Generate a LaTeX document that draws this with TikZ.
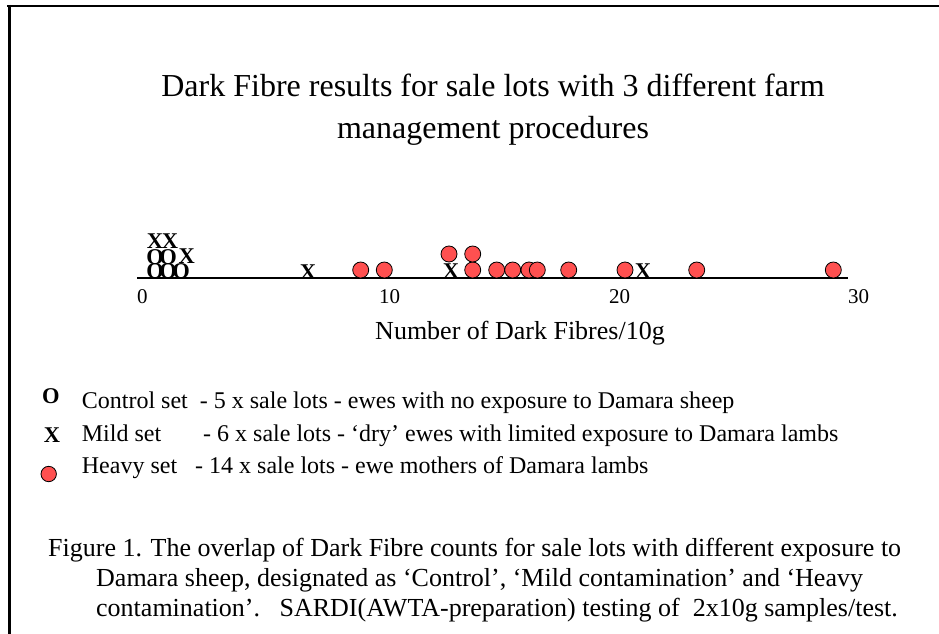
\documentclass[tikz,border=0pt]{standalone}
\usepackage{fontspec}
\setmainfont{Liberation Serif}
\definecolor{dotred}{RGB}{255,80,80}
\tikzset{
  frameline/.style={line width=2.7pt},
  axisline/.style={line width=1.3pt},
  txt/.style={inner sep=0pt, anchor=base west},
  ctxt/.style={inner sep=0pt, anchor=base},
  mk/.style={inner sep=0pt, anchor=base, font=\fontsize{22.5}{22.5}\selectfont\bfseries},
  dot/.style={circle, draw=black, line width=0.8pt, fill=dotred, minimum size=16pt, inner sep=0pt},
}
\begin{document}
\begin{tikzpicture}[x=1pt,y=-1pt]
\useasboundingbox (0,0) rectangle (939,634);
% frame (top and left edges only)
\draw[frameline] (7,6) -- (939,6);
\draw[frameline] (9.3,5) -- (9.3,634);
% title
\node[ctxt, font=\fontsize{32}{32}\selectfont] (title1) at (493,96) {Dark Fibre results for sale lots with 3 different farm};
\node[ctxt, font=\fontsize{32}{32}\selectfont] (title2) at (493,138) {management procedures};
% axis
\coordinate (axL) at (137,278);
\coordinate (axR) at (848,278);
\draw[axisline] (axL) -- (axR);
\node[txt, font=\fontsize{21}{21}\selectfont] (t0) at (137,303) {0};
\node[txt, font=\fontsize{21}{21}\selectfont] (t10) at (379,303) {10};
\node[txt, font=\fontsize{21}{21}\selectfont] (t20) at (609,303) {20};
\node[txt, font=\fontsize{21}{21}\selectfont] (t30) at (848,303) {30};
\node[ctxt, font=\fontsize{26}{26}\selectfont] (xlab) at (520,339) {Number of Dark Fibres/10g};
% control lots
\node[mk] (c1) at (155,278) {O};
\node[mk] (c2) at (168,278) {O};
\node[mk] (c3) at (181,278) {O};
\node[mk] (c4) at (155,264) {O};
\node[mk] (c5) at (168,264) {O};
% mild lots
\node[mk] (m1) at (186.7,263) {X};
\node[mk] (m2) at (155,248) {X};
\node[mk] (m3) at (170,248) {X};
\node[mk] (m4) at (308,279) {X};
\node[mk] (m5) at (451,278) {X};
\node[mk] (m6) at (643,278) {X};
% heavy lots
\foreach \x [count=\i] in {360.7,384.3,472.7,496.7,512.7,529,537.3,568.7,625,696.7,833.3}
  \node[dot] (h\i) at (\x,270) {};
\node[dot] (hu1) at (449,254) {};
\node[dot] (hu2) at (472.7,254) {};
% legend
\node[mk] (lo) at (51,403) {O};
\node[mk] (lx) at (52,442) {X};
\node[dot, minimum size=15.4pt] (lh) at (48.7,474) {};
\node[txt, font=\fontsize{24}{24}\selectfont] (l1) at (81.7,408) {Control set\ \ - 5 x sale lots - ewes with no exposure to Damara sheep};
\node[txt, font=\fontsize{24}{24}\selectfont] (l2) at (81.7,441) {Mild set\ \ \ \ \ \ \ - 6 x sale lots - ‘dry’ ewes with limited exposure to Damara lambs};
\node[txt, font=\fontsize{24}{24}\selectfont] (l3) at (81.7,473) {Heavy set\ \ \ - 14 x sale lots - ewe mothers of Damara lambs};
% caption
\node[txt, font=\fontsize{26}{26}\selectfont] (cap1) at (48,556) {Figure 1. The overlap of Dark Fibre counts for sale lots with different exposure to};
\node[txt, font=\fontsize{26}{26}\selectfont] (cap2) at (96,586) {Damara sheep, designated as ‘Control’, ‘Mild contamination’ and ‘Heavy};
\node[txt, font=\fontsize{26}{26}\selectfont] (cap3) at (96,616) {contamination’.\ \ \ SARDI(AWTA-preparation) testing of\ \ 2x10g samples/test.};
\end{tikzpicture}
\end{document}
